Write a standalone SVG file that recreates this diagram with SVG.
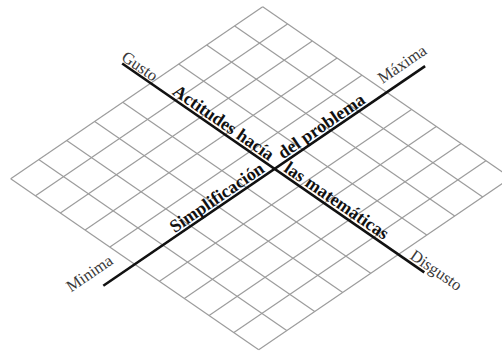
<svg xmlns="http://www.w3.org/2000/svg" width="502" height="351" viewBox="0 0 502 351">
<style>
.grid line{stroke:#9c9c9c;stroke-width:1.2;fill:none}
.axis{stroke:#111;stroke-width:2.6;fill:none}
.lbl{font-family:"Liberation Serif","Times New Roman",serif;font-size:16.5px;fill:#3a3a3a}
.ttl{font-family:"Liberation Serif","Times New Roman",serif;font-size:18px;font-weight:bold;fill:#111}
</style>
<rect width="502" height="351" fill="#fff"/>
<g id="grid" class="grid">
<line x1="262.7" y1="6.8" x2="510.7" y2="177.8"/>
<line x1="234.7" y1="25.9" x2="482.7" y2="196.9"/>
<line x1="206.7" y1="45.0" x2="454.7" y2="216.0"/>
<line x1="178.7" y1="64.1" x2="426.7" y2="235.1"/>
<line x1="150.7" y1="83.2" x2="398.7" y2="254.2"/>
<line x1="122.7" y1="102.3" x2="370.7" y2="273.3"/>
<line x1="94.7" y1="121.4" x2="342.7" y2="292.4"/>
<line x1="66.7" y1="140.5" x2="314.7" y2="311.5"/>
<line x1="38.7" y1="159.6" x2="286.7" y2="330.6"/>
<line x1="10.7" y1="178.7" x2="258.7" y2="349.7"/>
<line x1="262.7" y1="6.8" x2="10.7" y2="178.7"/>
<line x1="287.5" y1="23.9" x2="35.5" y2="195.8"/>
<line x1="312.3" y1="41.0" x2="60.3" y2="212.9"/>
<line x1="337.1" y1="58.1" x2="85.1" y2="230.0"/>
<line x1="361.9" y1="75.2" x2="109.9" y2="247.1"/>
<line x1="386.7" y1="92.3" x2="134.7" y2="264.2"/>
<line x1="411.5" y1="109.4" x2="159.5" y2="281.3"/>
<line x1="436.3" y1="126.5" x2="184.3" y2="298.4"/>
<line x1="461.1" y1="143.6" x2="209.1" y2="315.5"/>
<line x1="485.9" y1="160.7" x2="233.9" y2="332.6"/>
<line x1="510.7" y1="177.8" x2="258.7" y2="349.7"/>
</g>
<g id="connectors">
<line id="axis-gusto" class="axis" x1="122.2" y1="63.5" x2="424.3" y2="272.4"/>
<line id="axis-maxima" class="axis" x1="103.3" y1="285.8" x2="425.1" y2="66.1"/>
</g>
<g id="label-gusto"><text class="lbl" transform="translate(120.5,59.5) rotate(34.59)">Gusto</text></g>
<g id="label-disgusto"><text class="lbl" transform="translate(409,258) rotate(34.59)">Disgusto</text></g>
<g id="label-maxima"><text class="lbl" transform="translate(382.5,84) rotate(-34.3)">Máxima</text></g>
<g id="label-minima"><text class="lbl" transform="translate(71,292.5) rotate(-34.3)">Minima</text></g>
<g id="title-actitudes"><text class="ttl" text-anchor="end" transform="translate(269,161.1) rotate(34.59)">Actitudes hacía</text></g>
<g id="title-matematicas"><text class="ttl" transform="translate(283,170.8) rotate(34.59)">las matemáticas</text></g>
<g id="title-del-problema"><text class="ttl" transform="translate(282.9,159.5) rotate(-34.3)">del problema</text></g>
<g id="title-simplificacion"><text class="ttl" text-anchor="end" transform="translate(265.6,171.3) rotate(-34.3)">Simplificación</text></g>
</svg>
